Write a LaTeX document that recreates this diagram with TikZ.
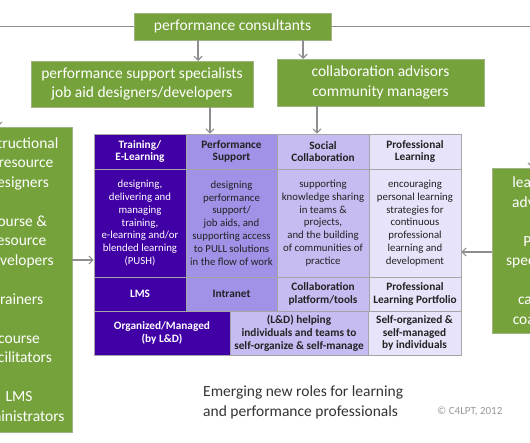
\documentclass[tikz,border=0pt]{standalone}
\usepackage{fontspec}
\setmainfont{Carlito}
\usetikzlibrary{arrows.meta}
\definecolor{grn}{HTML}{76A23C}
\definecolor{cA}{HTML}{4100A6}
\definecolor{cB}{HTML}{A192E8}
\definecolor{cC}{HTML}{C7BCF2}
\definecolor{cD}{HTML}{E7E3FA}
\definecolor{lnc}{HTML}{8E8E8E}
\definecolor{txt}{HTML}{222222}
\tikzset{
  gbox/.style={fill=grn, draw=grn!80!black!60!white, line width=0.6pt, text=white, align=center, inner sep=0pt, font=\fontsize{15.5}{19.5}\selectfont},
  cell/.style={draw=lnc!80, line width=0.8pt, inner sep=0pt, align=center, text=txt, font=\fontsize{10.8}{12.8}\selectfont},
  hcell/.style={cell, font=\bfseries\fontsize{11.3}{12.8}\selectfont},
  conn/.style={draw=lnc, line width=1.1pt},
  arr/.style={conn, -{Straight Barb[length=4pt,width=8pt]}},
}
\begin{document}
\begin{tikzpicture}[x=1pt,y=-1pt]
\useasboundingbox (0,0) rectangle (530,442);
\clip (0,0) rectangle (530,442);
\fill[white] (0,0) rectangle (530,442);

% green boxes
\node[gbox, minimum width=197pt, minimum height=27pt] (pc) at (232.5,26.5) {performance consultants};
\node[gbox, minimum width=222pt, minimum height=46pt] (ps) at (142,84) {performance support specialists\\job aid designers/developers};
\node[gbox, minimum width=207pt, minimum height=47pt] (ca) at (380.5,82.5) {collaboration advisors\\community managers};
\node[gbox, minimum width=106pt, minimum height=305pt] (lb) at (19,279.5) {instructional\\\& resource\\designers\\[19.5pt]course \&\\resource\\developers\\[19.5pt]trainers\\[19.5pt]course\\facilitators\\[19.5pt]LMS\\administrators};
\node[gbox, minimum width=92pt, minimum height=165pt] (rb) at (538,250.5) {learning\\advisors\\[19.5pt]PKM\\specialists\\[19.5pt]career\\coaches};

% table header row
\node[hcell, fill=cA, text=white, minimum width=92pt, minimum height=35pt] (h1) at (140,151.5) {Training/\\E-Learning};
\node[hcell, fill=cB, minimum width=91pt, minimum height=35pt] (h2) at (231.5,151.5) {Performance\\Support};
\node[hcell, fill=cC, minimum width=92pt, minimum height=35pt] (h3) at (323,151.5) {Social\\Collaboration};
\node[hcell, fill=cD, minimum width=92pt, minimum height=35pt] (h4) at (415,151.5) {Professional\\Learning};
% body row
\node[cell, fill=cA, text=white, minimum width=92pt, minimum height=108pt] (b1) at (140,223) {designing,\\delivering and\\managing\\training,\\e-learning and/or\\blended learning\\(PUSH)};
\node[cell, fill=cB, minimum width=91pt, minimum height=108pt] (b2) at (231.5,223) {designing\\performance\\support/\\job aids, and\\supporting access\\to PULL solutions\\in the flow of work};
\node[cell, fill=cC, minimum width=92pt, minimum height=108pt] (b3) at (323,223) {supporting\\knowledge sharing\\in teams \&\\projects,\\and the building\\of communities of\\practice};
\node[cell, fill=cD, minimum width=92pt, minimum height=108pt] (b4) at (415,223) {encouraging\\personal learning\\strategies for\\continuous\\professional\\learning and\\development};
% tools row
\node[hcell, fill=cA, text=white, minimum width=92pt, minimum height=34pt] (t1) at (140,294) {LMS};
\node[hcell, fill=cB, minimum width=91pt, minimum height=34pt] (t2) at (231.5,294) {Intranet};
\node[hcell, fill=cC, minimum width=92pt, minimum height=34pt] (t3) at (323,294) {Collaboration\\platform/tools};
\node[hcell, fill=cD, minimum width=92pt, minimum height=34pt] (t4) at (415,294) {Professional\\Learning Portfolio};
% bottom row
\node[hcell, fill=cA, text=white, minimum width=136pt, minimum height=44pt] (o1) at (162,333) {Organized/Managed\\(by L\&D)};
\node[hcell, fill=cC, minimum width=138pt, minimum height=44pt] (o2) at (299,333) {(L\&D) helping\\individuals and teams to\\self-organize \& self-manage};
\node[hcell, fill=cD, minimum width=93pt, minimum height=44pt] (o3) at (414.5,333) {Self-organized \&\\self-managed\\by individuals};

% connectors
\coordinate (lc) at (-2,26.5);
\coordinate (rc) at (532,26.5);
\draw[conn] (pc.west) -- (lc);
\draw[arr] (lc) -- (lc |- lb.north);
\draw[conn] (pc.east) -- (rc);
\draw[arr] (rc) -- (rc |- rb.north);
\draw[arr] (198,40) -- (198,61);
\draw[arr] (303,40) -- (303,59);
\draw[arr] (ps.south -| 210,0) -- (h2.north -| 210,0);
\draw[arr] (ca.south -| 317,0) -- (h3.north -| 317,0);
\draw[arr] (lb.east |- 0,260) -- (b1.west |- 0,260);
\draw[arr] (rb.west |- 0,252) -- (b4.east |- 0,252);

% caption
\node[anchor=north west, align=left, text=black!80, inner sep=0pt, font=\fontsize{15.5}{19.5}\selectfont] (cap) at (203,386) {Emerging new roles for learning\\and performance professionals};
\node[anchor=west, text=black!40, inner sep=0pt, font=\fontsize{11}{13}\selectfont] (copy) at (437,411) {© C4LPT, 2012};
\end{tikzpicture}
\end{document}
